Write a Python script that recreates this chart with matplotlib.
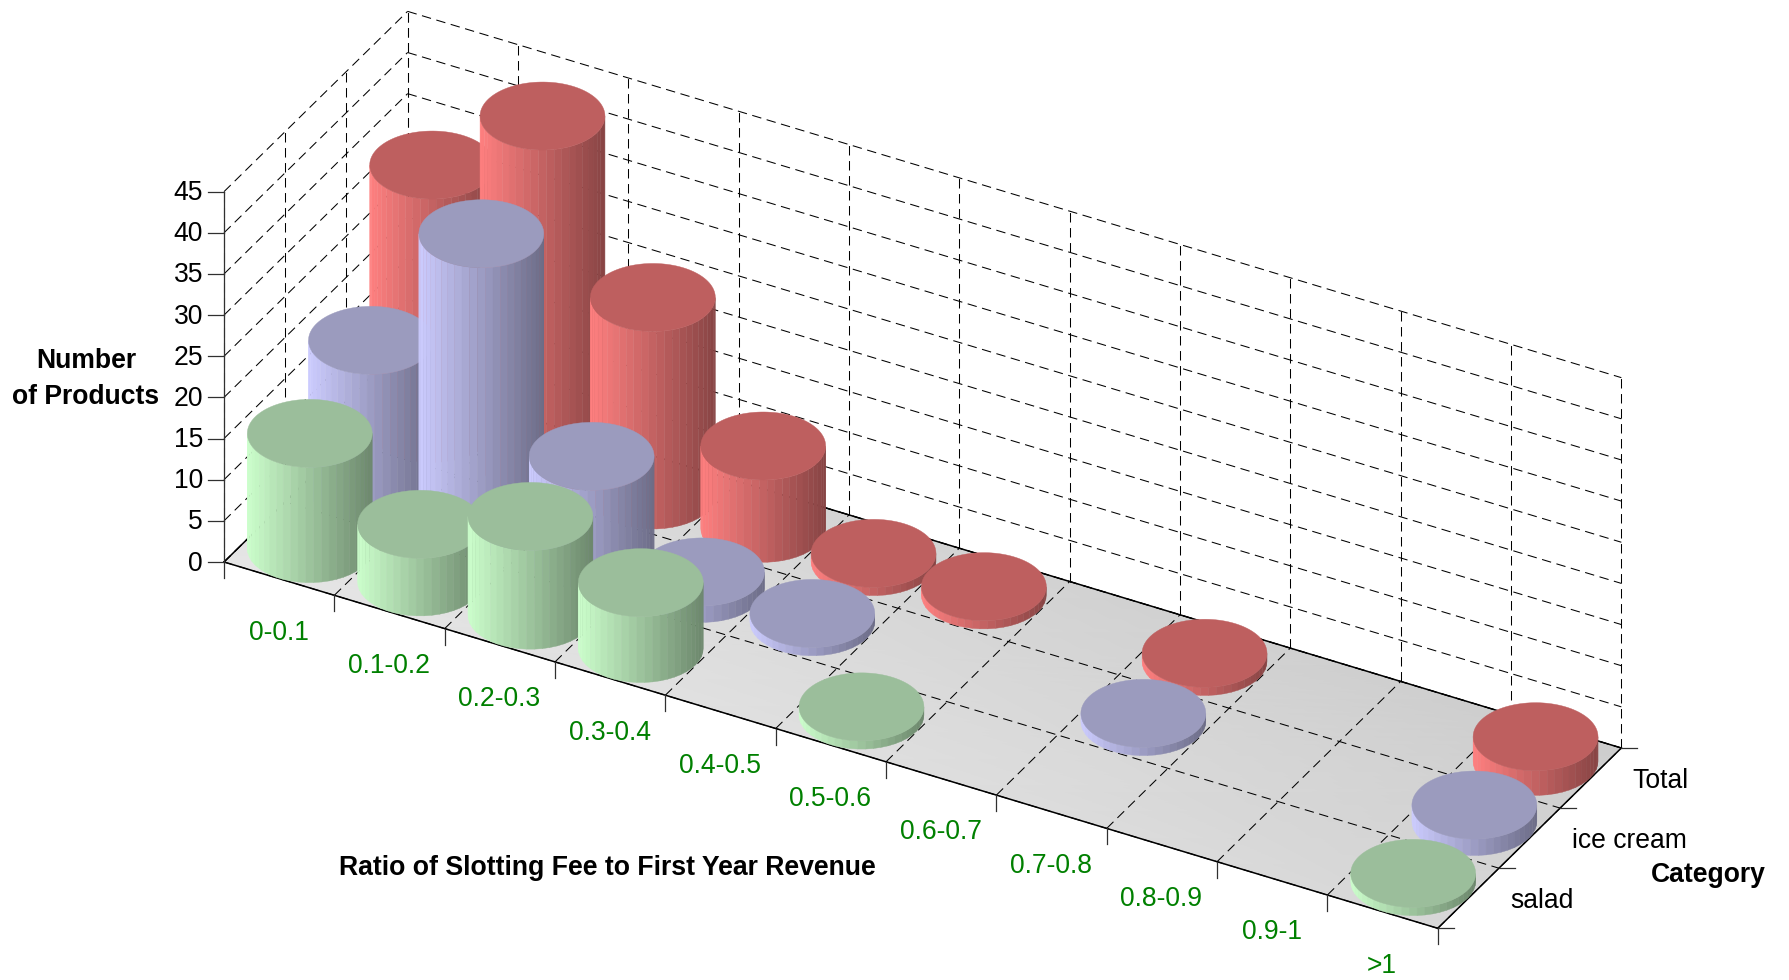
import numpy as np
import matplotlib
matplotlib.use('Agg')
import matplotlib.pyplot as plt

plt.rcParams['font.family'] = ['Liberation Sans', 'DejaVu Sans']
plt.rcParams['lines.scale_dashes'] = False

ratio_labels = ['0-0.1', '0.1-0.2', '0.2-0.3', '0.3-0.4', '0.4-0.5', '0.5-0.6',
                '0.6-0.7', '0.7-0.8', '0.8-0.9', '0.9-1', '>1']
category_labels = ['salad', 'ice cream', 'Total']
z_ticks = [0, 5, 10, 15, 20, 25, 30, 35, 40, 45]

salad = [14, 7, 12, 8, 0, 1, 0, 0, 0, 0, 1]
ice_cream = [18, 35, 12, 2, 1, 0, 0, 1, 0, 0, 2]
total = [32, 42, 24, 10, 1, 1, 0, 1, 0, 0, 3]

# light side colour and flat top colour for each series
green = ((204, 255, 204), (155, 190, 155))
blue = ((204, 204, 255), (155, 155, 190))
red = ((255, 128, 128), (190, 95, 95))

# parallel projection, everything below is in output pixels
ORIGIN = np.array([224.0, 562.0])
EX = np.array([110.34, 33.3])
EY = np.array([61.2, -60.1])
EZ = np.array([0.0, -8.23])
RADIUS = 0.495
N_FACETS = 50
DARKEST = 0.53
FONT = 19.1


def project(x, y, z=0):
    x, y, z = np.asarray(x, float), np.asarray(y, float), np.asarray(z, float)
    return (ORIGIN[0] + x * EX[0] + y * EY[0] + z * EZ[0],
            ORIGIN[1] + x * EX[1] + y * EY[1] + z * EZ[1])


def line3d(ax, a, b, **kw):
    px, py = project([a[0], b[0]], [a[1], b[1]], [a[2], b[2]])
    ax.plot(px, py, **kw)


def cylinder(ax, x, y, h, colors):
    side, top = colors
    side = np.array(side) / 255
    top = np.array(top) / 255
    phi = np.arctan2(EY[0], EX[0])
    # lower half of the ellipse, left silhouette to right silhouette
    t = np.linspace(phi + np.pi, phi + 2 * np.pi, N_FACETS // 2 + 1)
    if project(np.cos(t[len(t) // 2]), np.sin(t[len(t) // 2]))[1] < project(0, 0)[1]:
        t = np.linspace(phi + np.pi, phi, N_FACETS // 2 + 1)
    xs = x + RADIUS * np.cos(t)
    ys = y + RADIUS * np.sin(t)
    px0, py0 = project(xs, ys, 0)
    px1, py1 = project(xs, ys, h)
    left, right = px0.min(), px0.max()
    for i in range(len(t) - 1):
        f = ((px0[i] + px0[i + 1]) / 2 - left) / (right - left)
        col = side * (1 - (1 - DARKEST) * f)
        ax.fill([px0[i], px0[i + 1], px1[i + 1], px1[i]],
                [py0[i], py0[i + 1], py1[i + 1], py1[i]],
                facecolor=col, edgecolor=col, lw=0.3, zorder=5)
    a = np.linspace(0, 2 * np.pi, 120)
    tx, ty = project(x + RADIUS * np.cos(a), y + RADIUS * np.sin(a), h)
    ax.fill(tx, ty, color=top, lw=0.3, zorder=5)


fig = plt.figure(figsize=(17.89, 9.80), dpi=100)
ax = fig.add_axes([0, 0, 1, 1])
ax.set_xlim(0, 1789)
ax.set_ylim(980, 0)
ax.axis('off')

nx = len(ratio_labels)
ny = len(category_labels)
ztop = z_ticks[-1]

# floor
fx, fy = project([[0, nx], [0, nx]], [[0, 0], [ny, ny]])
ax.pcolormesh(fx, fy, np.array([[230, 216], [216, 205]]), shading='gouraud',
              cmap='gray', vmin=0, vmax=255, zorder=1)

grid = dict(color='black', lw=0.75, ls=(0, (6.8, 4.0)), zorder=2)
for i in range(nx + 1):
    line3d(ax, (i, 0, 0), (i, ny, 0), **grid)
    line3d(ax, (i, ny, 0), (i, ny, ztop), **grid)
for j in range(ny + 1):
    line3d(ax, (0, j, 0), (nx, j, 0), **grid)
    line3d(ax, (0, j, 0), (0, j, ztop), **grid)
for z in z_ticks:
    line3d(ax, (0, 0, z), (0, ny, z), **grid)
    line3d(ax, (0, ny, z), (nx, ny, z), **grid)

# floor outline and axes
solid = dict(color='black', lw=1.1, zorder=3)
line3d(ax, (0, 0, 0), (nx, 0, 0), **solid)
line3d(ax, (nx, 0, 0), (nx, ny, 0), **solid)
line3d(ax, (nx, ny, 0), (0, ny, 0), **solid)
line3d(ax, (0, ny, 0), (0, 0, 0), **solid)

tick = dict(color='#303030', lw=0.9, zorder=3)
line3d(ax, (0, 0, 0), (0, 0, ztop), **tick)
TICK_LEN = 16
for z in z_ticks:
    px, py = project(0, 0, z)
    ax.plot([px - TICK_LEN, px], [py, py], **tick)
    ax.text(px - 21, py + 1.5, str(z), ha='right', va='center', fontsize=FONT, color='black')
for i in range(nx + 1):
    px, py = project(i, 0, 0)
    ax.plot([px, px], [py, py + TICK_LEN], **tick)
for i, lab in enumerate(ratio_labels):
    px, py = project(i + 0.5, 0, 0)
    ax.text(px - 0.5, py + 54, lab, ha='center', va='center', fontsize=FONT, color='#008000')
for j in range(ny + 1):
    px, py = project(nx, j, 0)
    ax.plot([px, px + TICK_LEN], [py, py], **tick)
for j, lab in enumerate(category_labels):
    px, py = project(nx, j + 0.5, 0)
    ax.text(px + 42, py + 3, lab, ha='left', va='center', fontsize=FONT, color='black')

ax.text(86, 378.5, 'Number\nof Products', ha='center', va='center', fontsize=FONT,
        fontweight='bold', linespacing=1.5)
ax.text(607, 868, 'Ratio of Slotting Fee to First Year Revenue', ha='center', va='center',
        fontsize=19.2, fontweight='bold')
ax.text(1708, 875, 'Category', ha='center', va='center', fontsize=FONT, fontweight='bold')

# back row first, left to right, so nearer cylinders paint over
for j, (values, colors) in reversed(list(enumerate([(salad, green), (ice_cream, blue), (total, red)]))):
    for i, h in enumerate(values):
        if h > 0:
            cylinder(ax, i + 0.5, j + 0.5, h, colors)

fig.savefig('out.png', dpi=100)
